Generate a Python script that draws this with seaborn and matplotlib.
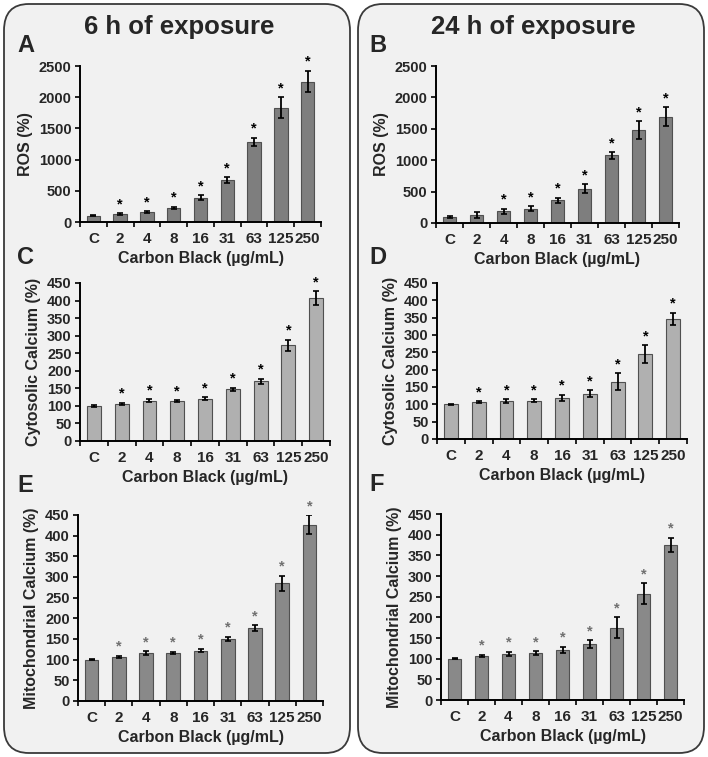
import numpy as np
import pandas as pd
import seaborn as sns
import matplotlib.pyplot as plt
from matplotlib.patches import FancyBboxPatch

sns.set_style("white")
plt.rcParams['font.family'] = ['Liberation Sans', 'DejaVu Sans']
plt.rcParams['font.weight'] = 'bold'

# data
doses = ['C', '2', '4', '8', '16', '31', '63', '125', '250']

ros_6h = [100, 130, 160, 225, 390, 670, 1280, 1830, 2250]
ros_6h_err = [10, 12, 15, 18, 40, 50, 70, 170, 170]
ros_6h_sig = [0, 1, 1, 1, 1, 1, 1, 1, 1]

ros_24h = [95, 130, 185, 225, 360, 545, 1075, 1480, 1690]
ros_24h_err = [10, 45, 40, 40, 40, 70, 50, 140, 150]
ros_24h_sig = [0, 0, 1, 1, 1, 1, 1, 1, 1]

cyto_6h = [100, 106, 115, 113, 121, 147, 170, 272, 406]
cyto_6h_err = [2, 3, 4, 3, 4, 5, 7, 16, 20]
cyto_6h_sig = [0, 1, 1, 1, 1, 1, 1, 1, 1]

cyto_24h = [100, 106, 110, 111, 119, 131, 165, 245, 347]
cyto_24h_err = [2, 3, 5, 4, 8, 10, 25, 25, 17]
cyto_24h_sig = [0, 1, 1, 1, 1, 1, 1, 1, 1]

mito_6h = [100, 107, 116, 116, 122, 150, 176, 285, 427]
mito_6h_err = [2, 3, 4, 3, 4, 6, 7, 18, 22]
mito_6h_sig = [0, 1, 1, 1, 1, 1, 1, 1, 1]

mito_24h = [100, 106, 112, 114, 121, 135, 175, 257, 376]
mito_24h_err = [2, 3, 5, 4, 8, 10, 25, 25, 17]
mito_24h_sig = [0, 1, 1, 1, 1, 1, 1, 1, 1]

W, H = 708, 757
fig = plt.figure(figsize=(W / 100, H / 100), dpi=100)
fig.patch.set_facecolor('white')

# rounded boxes behind each column
for x0, x1 in [(4, 350), (358, 704)]:
    box = FancyBboxPatch((x0 / W, 4 / H), (x1 - x0) / W, (753 - 4) / H,
                         boxstyle="round,pad=0,rounding_size=0.035",
                         transform=fig.transFigure, facecolor='#f1f1f1',
                         edgecolor='#3a3a3a', linewidth=1.3, zorder=-5)
    fig.patches.append(box)

fig.text(179 / W, 1 - 27 / H, '6 h of exposure', ha='center', va='center',
         fontsize=18.5, fontweight='bold')
fig.text(533 / W, 1 - 27 / H, '24 h of exposure', ha='center', va='center',
         fontsize=18.5, fontweight='bold')


def panel(rect, vals, errs, sig, ylabel, ymax, step, color, letter, lpos, star_color='black'):
    l, r, t, b = rect
    ax = fig.add_axes([l / W, 1 - b / H, (r - l) / W, (b - t) / H])
    ax.set_facecolor('none')
    df = pd.DataFrame({'dose': doses, 'value': vals})
    sns.barplot(data=df, x='dose', y='value', color=color, width=0.5,
                edgecolor='#505050', linewidth=0.8, saturation=1, errorbar=None, ax=ax)
    xs = np.arange(len(doses))
    ax.errorbar(xs, vals, yerr=errs, fmt='none', ecolor='black', elinewidth=1.3,
                capsize=2, capthick=1.2)
    for i, s in enumerate(sig):
        if s:
            ax.annotate('*', xy=(xs[i], vals[i] + errs[i]), xytext=(0, 1.5),
                        textcoords='offset points', ha='center', va='bottom',
                        fontsize=10.5, fontweight='bold', color=star_color)
    ax.set_ylim(0, ymax)
    ax.set_xlim(-0.5, len(doses) - 0.5)
    ax.set_yticks(np.arange(0, ymax + 1, step))
    ax.set_xticks(np.arange(-0.5, len(doses), 1.0), minor=False)
    ax.set_xticklabels([])
    ax.set_xticks(xs, minor=True)
    ax.set_xticklabels(doses, minor=True)
    ax.tick_params(axis='x', which='major', length=3.5, width=1.2, direction='out', color='black', bottom=True)
    ax.tick_params(axis='x', which='minor', length=0, labelsize=11, pad=7)
    ax.tick_params(axis='y', length=3.5, width=1.2, direction='out', labelsize=10.5, color='black', left=True, pad=2.5)
    for lab in ax.get_xticklabels(minor=True) + ax.get_yticklabels():
        lab.set_fontweight('bold')
    sns.despine(ax=ax)
    for sp in ['left', 'bottom']:
        ax.spines[sp].set_linewidth(1.4)
        ax.spines[sp].set_color('black')
    ax.set_xlabel('Carbon Black (µg/mL)', fontsize=11.5, fontweight='bold', labelpad=4)
    ax.set_ylabel(ylabel, fontsize=11.5, fontweight='bold', labelpad=4)
    fig.text(lpos[0] / W, 1 - lpos[1] / H, letter, ha='left', va='center',
             fontsize=17, fontweight='bold')
    return ax


dark = '#7e7e7e'
light = '#b0b0b0'
mid = '#898989'

panel((80, 321, 66, 222), ros_6h, ros_6h_err, ros_6h_sig, 'ROS (%)', 2500, 500, dark, 'A', (17, 46))
panel((436, 679, 66, 223), ros_24h, ros_24h_err, ros_24h_sig, 'ROS (%)', 2500, 500, dark, 'B', (369, 46))
panel((80, 330, 283, 441), cyto_6h, cyto_6h_err, cyto_6h_sig, 'Cytosolic Calcium (%)', 450, 50, light, 'C', (17, 257))
panel((437, 687, 283, 439), cyto_24h, cyto_24h_err, cyto_24h_sig, 'Cytosolic Calcium (%)', 450, 50, light, 'D', (369, 257))
panel((78, 323, 515, 701), mito_6h, mito_6h_err, mito_6h_sig, 'Mitochondrial Calcium (%)', 450, 50, mid, 'E', (17, 485), '#707070')
panel((441, 684, 514, 700), mito_24h, mito_24h_err, mito_24h_sig, 'Mitochondrial Calcium (%)', 450, 50, mid, 'F', (369, 484), '#707070')

fig.savefig('out.png', dpi=100, facecolor='white')
